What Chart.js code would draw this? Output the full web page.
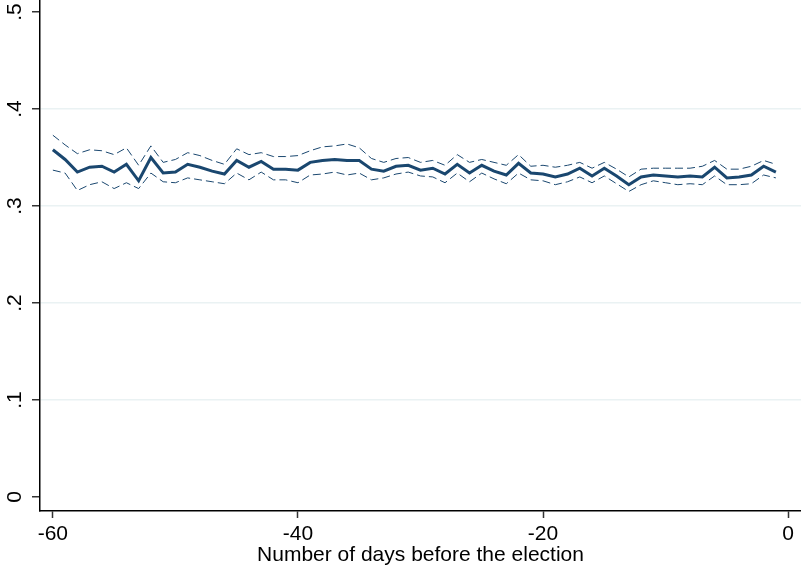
<!DOCTYPE html>
<html>
<head>
<meta charset="utf-8">
<script src="https://cdn.jsdelivr.net/npm/chart.js@4/dist/chart.umd.min.js"></script>
<style>
  body { margin: 0; background: #fff; }
  #wrap { width: 801px; height: 567px; }
</style>
</head>
<body>
<div id="wrap"><canvas id="chart" width="801" height="567"></canvas></div>
<script>
// days before the election, -60 .. -1
const days = [];
for (let d = -60; d <= -1; d++) days.push(d);

// estimated share
const estimate = [
  0.358, 0.348, 0.335, 0.340, 0.341, 0.335, 0.343, 0.326, 0.350, 0.334,
  0.335, 0.343, 0.340, 0.336, 0.333, 0.347, 0.340, 0.346, 0.338, 0.338,
  0.337, 0.345, 0.347, 0.348, 0.347, 0.347, 0.338, 0.336, 0.341, 0.342,
  0.337, 0.339, 0.333, 0.343, 0.334, 0.342, 0.336, 0.332, 0.344, 0.334,
  0.333, 0.330, 0.333, 0.339, 0.331, 0.339, 0.331, 0.322, 0.330, 0.332,
  0.331, 0.330, 0.331, 0.330, 0.340, 0.329, 0.330, 0.332, 0.341, 0.335
];
// upper confidence bound
const upper = [
  0.373, 0.363, 0.354, 0.358, 0.357, 0.353, 0.360, 0.342, 0.362, 0.345,
  0.348, 0.355, 0.352, 0.347, 0.343, 0.359, 0.353, 0.355, 0.351, 0.351,
  0.352, 0.357, 0.361, 0.362, 0.364, 0.360, 0.349, 0.345, 0.349, 0.350,
  0.345, 0.347, 0.342, 0.353, 0.345, 0.348, 0.345, 0.342, 0.353, 0.341,
  0.342, 0.340, 0.342, 0.345, 0.339, 0.345, 0.338, 0.330, 0.338, 0.339,
  0.339, 0.339, 0.339, 0.341, 0.347, 0.338, 0.338, 0.341, 0.347, 0.343
];
// lower confidence bound
const lower = [
  0.337, 0.334, 0.316, 0.322, 0.325, 0.318, 0.324, 0.318, 0.334, 0.325,
  0.324, 0.329, 0.327, 0.325, 0.323, 0.334, 0.327, 0.335, 0.327, 0.327,
  0.324, 0.332, 0.333, 0.335, 0.332, 0.334, 0.327, 0.329, 0.333, 0.335,
  0.331, 0.330, 0.324, 0.334, 0.325, 0.334, 0.328, 0.323, 0.334, 0.327,
  0.326, 0.322, 0.325, 0.330, 0.324, 0.331, 0.323, 0.315, 0.322, 0.326,
  0.324, 0.322, 0.323, 0.322, 0.331, 0.322, 0.322, 0.323, 0.332, 0.329
];

const xTicks = [-60, -40, -20, 0];
const yTicks = [0, 0.1, 0.2, 0.3, 0.4, 0.5];
const yTickLabels = ['0', '.1', '.2', '.3', '.4', '.5'];

const navy = '#1a476f';
const fontFamily = '"Liberation Sans", Arial, sans-serif';
const pts = arr => days.map((d, i) => ({ x: d, y: arr[i] }));

// y labels are drawn rotated, like Stata does
const rotatedYLabels = {
  id: 'rotatedYLabels',
  afterDraw(chart) {
    const ctx = chart.ctx;
    const ys = chart.scales.y;
    ctx.save();
    ctx.fillStyle = '#000';
    ctx.font = '21px ' + fontFamily;
    ctx.textAlign = 'center';
    ctx.textBaseline = 'alphabetic';
    ys.ticks.forEach((t, i) => {
      const py = ys.getPixelForValue(t.value);
      ctx.save();
      ctx.translate(21, py);
      ctx.rotate(-Math.PI / 2);
      ctx.fillText(yTickLabels[i], 0, 0);
      ctx.restore();
    });
    ctx.restore();
  }
};

new Chart(document.getElementById('chart'), {
  type: 'line',
  data: {
    datasets: [
      { data: pts(upper), borderColor: navy, borderWidth: 1, borderDash: [8, 4], pointRadius: 0, tension: 0 },
      { data: pts(lower), borderColor: navy, borderWidth: 1, borderDash: [8, 4], pointRadius: 0, tension: 0 },
      { data: pts(estimate), borderColor: navy, borderWidth: 3, pointRadius: 0, tension: 0 }
    ]
  },
  options: {
    responsive: false,
    animation: false,
    layout: { padding: 0 },
    plugins: { legend: { display: false }, tooltip: { enabled: false } },
    scales: {
      x: {
        type: 'linear',
        min: -61.05,
        max: 1.05,
        afterBuildTicks: s => { s.ticks = xTicks.map(v => ({ value: v })); },
        afterFit: s => { s.height = 56; },
        border: { color: '#000', width: 1.5 },
        grid: { drawOnChartArea: false, tickLength: 7, tickColor: '#333', tickWidth: 1.5 },
        ticks: {
          color: '#000',
          font: { family: fontFamily, size: 21 },
          padding: 4,
          maxRotation: 0,
          callback: v => String(v)
        },
        title: {
          display: true,
          text: 'Number of days before the election',
          color: '#000',
          font: { family: fontFamily, size: 21 },
          padding: { top: 0, bottom: -1 }
        }
      },
      y: {
        type: 'linear',
        min: -0.0144,
        max: 0.5124,
        afterBuildTicks: s => { s.ticks = yTicks.map(v => ({ value: v })); },
        afterFit: s => { s.width = 40; },
        border: { color: '#000', width: 1.5 },
        grid: {
          color: ctx => (ctx.tick && ctx.tick.value > 0.05 && ctx.tick.value < 0.45) ? '#eaf2f3' : 'rgba(0,0,0,0)',
          lineWidth: 1.5,
          tickLength: 8,
          tickColor: '#333',
          tickWidth: 1.5
        },
        ticks: { display: false }
      }
    }
  },
  plugins: [rotatedYLabels]
});
</script>
</body>
</html>
